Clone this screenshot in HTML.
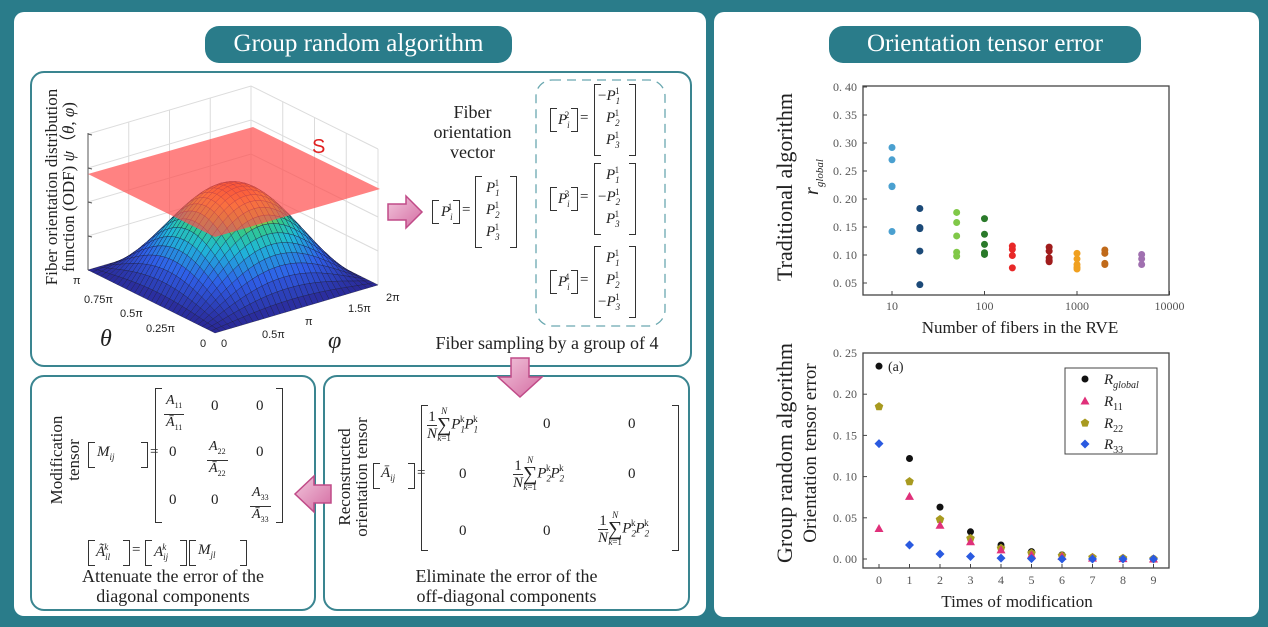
<!DOCTYPE html>
<html><head><meta charset="utf-8">
<style>
*{margin:0;padding:0;box-sizing:border-box}
body{width:1268px;height:627px;background:#2a7c8a;position:relative;overflow:hidden;font-family:"Liberation Serif",serif;color:#222}
.a{position:absolute;white-space:nowrap}
.panel{position:absolute;background:#fff;border-radius:10px}
.box{position:absolute;border:2px solid #3a8590;border-radius:14px;background:#fff}
.pill{position:absolute;background:#2a7c8a;color:#fff;border-radius:14px;font-size:25px;text-align:center;line-height:36px}
.br{position:absolute;border:1.5px solid #333;width:7px}
.bl{border-right:none}.brr{border-left:none}
i{font-style:italic}
.t{font-size:18px;text-align:center}
.rot{position:absolute;transform:rotate(-90deg);transform-origin:center;white-space:nowrap;text-align:center}
</style></head><body>
<div class="panel" style="left:14px;top:12px;width:692px;height:604px"></div>
<div class="panel" style="left:714px;top:12px;width:545px;height:605px"></div>
<div class="pill" style="left:205px;top:26px;width:307px;height:37px">Group random algorithm</div>
<div class="pill" style="left:829px;top:26px;width:312px;height:37px">Orientation tensor error</div>

<div class="box" style="left:30px;top:71px;width:662px;height:296px"></div>
<div class="box" style="left:30px;top:375px;width:286px;height:236px"></div>
<div class="box" style="left:323px;top:375px;width:367px;height:236px"></div>

<svg id="s3" class="a" style="left:0;top:0" width="706" height="627"></svg>
<div class="rot" style="left:-60px;top:170px;width:240px;font-size:17px;line-height:17px">Fiber orientation distribution<br>function (ODF) <i>ψ</i>（<i>θ</i>, <i>φ</i>)</div>
<div class="a" style="left:312px;top:136px;font-family:'Liberation Sans',sans-serif;font-size:20px;color:#e02020">S</div>
<div class="a" style="font-size:11px;font-family:'Liberation Sans',sans-serif;color:#222;left:0;top:0">
<span class="a" style="left:73px;top:275px">π</span>
<span class="a" style="left:84px;top:294px">0.75π</span>
<span class="a" style="left:120px;top:308px">0.5π</span>
<span class="a" style="left:146px;top:323px">0.25π</span>
<span class="a" style="left:200px;top:338px">0</span>
<span class="a" style="left:221px;top:338px">0</span>
<span class="a" style="left:262px;top:329px">0.5π</span>
<span class="a" style="left:305px;top:316px">π</span>
<span class="a" style="left:348px;top:303px">1.5π</span>
<span class="a" style="left:386px;top:292px">2π</span>
</div>
<div class="a" style="left:100px;top:326px;font-size:24px"><i>θ</i></div>
<div class="a" style="left:328px;top:328px;font-size:24px"><i>φ</i></div>

<svg class="a" style="left:0;top:0" width="706" height="627">
<defs><linearGradient id="pg" x1="0" y1="0" x2="1" y2="1"><stop offset="0" stop-color="#f2c6dc"/><stop offset="1" stop-color="#d46ca2"/></linearGradient></defs>
<polygon points="388,204 406,204 406,196 422,212 406,228 406,220 388,220" fill="url(#pg)" stroke="#c04b88" stroke-width="1.5"/>
<polygon points="511,358 529,358 529,377 542,377 520,397 498,377 511,377" fill="url(#pg)" stroke="#c04b88" stroke-width="1.5"/>
<polygon points="331,485 314,485 314,476 295,494 314,512 314,503 331,503" fill="url(#pg)" stroke="#c04b88" stroke-width="1.5"/>
<rect x="536" y="80" width="129" height="246" rx="16" fill="none" stroke="#6aa8b0" stroke-width="1.3" stroke-dasharray="9,6"/>
</svg>

<div class="a t" style="left:420px;top:102px;width:105px;line-height:20px">Fiber<br>orientation<br>vector</div>
<div id="eqs"></div>
<div class="a" style="left:424px;top:333px;width:246px;text-align:center;font-size:18px">Fiber sampling by a group of 4</div>

<div class="rot" style="left:283px;top:460px;width:140px;font-size:17px;line-height:17px">Reconstructed<br>orientation tensor</div>
<div class="a" style="left:323px;top:566px;width:367px;text-align:center;font-size:18px;line-height:20px">Eliminate the error of the<br>off-diagonal components</div>
<div class="rot" style="left:10px;top:443px;width:110px;font-size:17px;line-height:17px">Modification<br>tensor</div>
<div class="a" style="left:30px;top:566px;width:286px;text-align:center;font-size:18px;line-height:20px">Attenuate the error of the<br>diagonal components</div>

<svg id="ch" class="a" style="left:0;top:0" width="1268" height="627" font-family="Liberation Serif, serif"></svg>

<script>
(function(){
const S=document.getElementById('s3');let h='';
const F=[215,333],U=[-127,-63],V=[163,-48],H=93;
function P(u,v,z){return [F[0]+U[0]*u+V[0]*v, F[1]+U[1]*u+V[1]*v-z];}
const g='#dcdcdc';
for(let k=0;k<=4;k++){const z=k*34;
 let a=P(1,0,z),b=P(1,1,z),c=P(0,1,z);h+=`<polyline points="${a} ${b} ${c}" fill="none" stroke="${g}" stroke-width="1"/>`;}
for(let k=0;k<=4;k++){let a=P(1,k/4,0),b=P(1,k/4,136);h+=`<line x1="${a[0]}" y1="${a[1]}" x2="${b[0]}" y2="${b[1]}" stroke="${g}"/>`;
 a=P(k/4,1,0);b=P(k/4,1,136);h+=`<line x1="${a[0]}" y1="${a[1]}" x2="${b[0]}" y2="${b[1]}" stroke="${g}"/>`;}
h+=`<line x1="88" y1="133" x2="88" y2="270" stroke="#555"/>`;
[0,34,68,102,136].forEach(z=>{let p=P(1,0,z);h+=`<line x1="${p[0]}" y1="${p[1]}" x2="${p[0]+4}" y2="${p[1]+1}" stroke="#555"/>`});
const stops=[[0,[42,40,150]],[.3,[47,95,232]],[.55,[31,184,216]],[.7,[48,200,144]],[.8,[160,208,48]],[.9,[240,192,32]],[1,[240,112,16]]];
function col(t){for(let i=1;i<stops.length;i++){if(t<=stops[i][0]){const [t0,c0]=stops[i-1],[t1,c1]=stops[i];const f=(t-t0)/(t1-t0);return `rgb(${c0.map((c,j)=>Math.round(c+(c1[j]-c)*f)).join(',')})`;}}return 'rgb(240,112,16)';}
const N=30;function f(u,v){const s=Math.sin(Math.PI*u)*Math.sin(Math.PI*v);return Math.pow(s,1.1);}
let q=[];
for(let i=0;i<N;i++)for(let j=0;j<N;j++){const u0=i/N,u1=(i+1)/N,v0=j/N,v1=(j+1)/N;
 const pts=[[u0,v0],[u1,v0],[u1,v1],[u0,v1]].map(([u,v])=>P(u,v,H*f(u,v)));
 const fm=f((u0+u1)/2,(v0+v1)/2);q.push([u0+v0,pts,fm]);}
q.sort((x,y)=>y[0]-x[0]);
q.forEach(([d,p,fm])=>{h+=`<polygon points="${p.map(x=>x.join(',')).join(' ')}" fill="${col(fm)}" stroke="#1a1a3a" stroke-width="0.35"/>`});
h+=`<polygon points="88,174 253,127 380,189 215,237" fill="#ff4d4d" fill-opacity="0.7"/>`;
S.innerHTML=h;

const E=document.getElementById('eqs');let e='';
function br(x,y,w,hh){return `<div class="br bl" style="left:${x}px;top:${y}px;height:${hh}px"></div><div class="br brr" style="left:${x+w-7}px;top:${y}px;height:${hh}px"></div>`;}
function t(x,y,s,fs){return `<div class="a" style="left:${x}px;top:${y}px;font-size:${fs||15}px">${s}</div>`;}
const Pv=(n,s)=>`<i>P</i><sub style="font-size:9px"><i>${n}</i></sub><sup style="font-size:9px;margin-left:-5px">${s}</sup>`;
e+=br(432,200,28,24)+t(441,202,Pv('i',1))+t(462,202,'=');
e+=br(475,176,42,72)+t(486,178,Pv(1,1))+t(486,200,Pv(2,1))+t(486,222,Pv(3,1));
const G=[[84,2,['−'+Pv(1,1),Pv(2,1),Pv(3,1)]],[163,3,[Pv(1,1),'−'+Pv(2,1),Pv(3,1)]],[246,4,[Pv(1,1),Pv(2,1),'−'+Pv(3,1)]]];
G.forEach(([y,k,r])=>{e+=br(550,y+24,28,24)+t(558,y+26,Pv('i',k))+t(580,y+26,'=');
 e+=br(594,y,42,72);r.forEach((s,j)=>{e+=t(s[0]=='−'?598:606,y+2+j*22,s)});});
const sm=(a)=>`<span style="display:inline-block;text-align:center;vertical-align:middle;font-size:15px;line-height:16px"><span style="display:block;border-bottom:1px solid #333">1</span><i>N</i></span><span style="display:inline-block;vertical-align:middle;text-align:center;font-size:9px;line-height:9px"><i>N</i><br><span style="font-size:20px;line-height:18px">∑</span><br><i>k</i>=1</span>${a}`;
e+=br(373,463,42,26)+t(381,465,'<i>Ā</i><sub style="font-size:9px"><i>ij</i></sub>')+t(417,465,'=');
e+=br(421,405,258,146);
e+=t(427,407,sm(Pv(1,'k')+Pv(1,'k')))+t(543,416,'0')+t(628,416,'0');
e+=t(459,466,'0')+t(513,456,sm(Pv(2,'k')+Pv(2,'k')))+t(628,466,'0');
e+=t(459,523,'0')+t(543,523,'0')+t(598,511,sm(Pv(2,'k')+Pv(2,'k')));
const fr=(n)=>`<span style="display:inline-block;text-align:center;font-size:14px;line-height:16px"><span style="display:block;border-bottom:1px solid #333;padding:0 2px"><i>A</i><sub style="font-size:8px">${n}</sub></span><i>Ā</i><sub style="font-size:8px">${n}</sub></span>`;
e+=br(88,442,60,26)+t(97,444,'<i>M</i><sub style="font-size:9px"><i>ij</i></sub>')+t(150,444,'=');
e+=br(155,388,128,135);
e+=t(164,393,fr(11))+t(211,398,'0')+t(256,398,'0');
e+=t(169,444,'0')+t(207,439,fr(22))+t(256,444,'0');
e+=t(169,492,'0')+t(211,492,'0')+t(250,485,fr(33));
e+=br(88,540,42,26)+t(96,542,'<i>Ã</i><sub style="font-size:9px"><i>il</i></sub><sup style="font-size:9px;margin-left:-6px"><i>k</i></sup>')+t(132,542,'=')+br(145,540,42,26)+t(154,542,'<i>A</i><sub style="font-size:9px"><i>ij</i></sub><sup style="font-size:9px;margin-left:-6px"><i>k</i></sup>')+br(189,540,58,26)+t(198,542,'<i>M</i><sub style="font-size:9px"><i>jl</i></sub>');
E.innerHTML=e;

const C=document.getElementById('ch');let c='';
c+=`<rect x="863" y="86" width="306" height="209" fill="none" stroke="#444" stroke-width="1.3"/>`;
const ty=v=>87+(0.40-v)/0.05*28, tx=n=>892+Math.log10(n/10)*92.5;
for(let k=1;k<=8;k++){const v=k*0.05,y=ty(v);c+=`<line x1="863" y1="${y}" x2="867" y2="${y}" stroke="#444"/><text x="857" y="${y+4}" font-size="12" fill="#555" text-anchor="end">${'0. '+(v.toFixed(2).slice(2))}</text>`;}
[10,100,1000,10000].forEach(n=>{const x=tx(n);c+=`<line x1="${x}" y1="295" x2="${x}" y2="291" stroke="#444"/><text x="${x}" y="310" font-size="12" fill="#555" text-anchor="middle">${n}</text>`});
const D=[[10,[.292,.270,.223,.222,.142],'#4aa0d0'],[20,[.183,.149,.147,.107,.047],'#1c4a78'],[50,[.176,.158,.134,.105,.098],'#80c848'],[100,[.165,.137,.119,.104,.101],'#2a7a2a'],[200,[.116,.110,.099,.077],'#e82828'],[500,[.114,.107,.095,.090,.088],'#a01c1c'],[1000,[.103,.093,.083,.078,.075],'#f0a020'],[2000,[.109,.103,.085,.083],'#c06a1a'],[5000,[.101,.093,.083],'#a070b0']];
D.forEach(([n,vs,cl])=>vs.forEach(v=>{c+=`<circle cx="${tx(n)}" cy="${ty(v)}" r="3.5" fill="${cl}"/>`}));
c+=`<text transform="translate(792,187) rotate(-90)" font-size="22" text-anchor="middle" fill="#222">Traditional algorithm</text>`;
c+=`<text transform="translate(818,177) rotate(-90)" font-size="20" text-anchor="middle" fill="#222" font-style="italic">r<tspan font-size="11" dy="5">global</tspan></text>`;
c+=`<text x="1020" y="333" font-size="17" text-anchor="middle" fill="#222">Number of fibers in the RVE</text>`;
c+=`<rect x="863" y="353" width="306" height="215" fill="none" stroke="#444" stroke-width="1.3"/>`;
const by=v=>559-v/0.05*41.2, bx=i=>879+i*30.5;
for(let k=0;k<=5;k++){const v=k*0.05,y=by(v);c+=`<line x1="863" y1="${y}" x2="867" y2="${y}" stroke="#444"/><text x="857" y="${y+4}" font-size="12" fill="#555" text-anchor="end">0. ${v.toFixed(2).slice(2)}</text>`;}
for(let i=0;i<10;i++){c+=`<line x1="${bx(i)}" y1="568" x2="${bx(i)}" y2="564" stroke="#444"/><text x="${bx(i)}" y="584" font-size="12" fill="#555" text-anchor="middle">${i}</text>`}
const rg=[.234,.122,.063,.033,.017,.009,.005,.002,.001,.0005],r11=[.037,.076,.041,.021,.011,.005,.003,.001,.0005,0],r22=[.185,.094,.048,.025,.013,.007,.004,.002,.001,0],r33=[.140,.017,.006,.003,.001,.0005,0,0,0,0];
const circ=(x,y)=>`<circle cx="${x}" cy="${y}" r="3.5" fill="#111"/>`;
const tri=(x,y)=>`<polygon points="${x},${y-4.5} ${x+4.5},${y+3.5} ${x-4.5},${y+3.5}" fill="#e0307a"/>`;
const pent=(x,y)=>{let p=[];for(let k=0;k<5;k++){const a=-Math.PI/2+k*2*Math.PI/5;p.push((x+4.5*Math.cos(a)).toFixed(1)+','+(y+4.5*Math.sin(a)).toFixed(1))}return `<polygon points="${p.join(' ')}" fill="#a89a20"/>`};
const dia=(x,y)=>`<polygon points="${x},${y-4.5} ${x+4.5},${y} ${x},${y+4.5} ${x-4.5},${y}" fill="#2a5ae0"/>`;
for(let i=0;i<10;i++){c+=circ(bx(i),by(rg[i]))+pent(bx(i),by(r22[i]))+tri(bx(i),by(r11[i]))+dia(bx(i),by(r33[i]));}
c+=`<text x="888" y="371" font-size="14" fill="#222">(a)</text>`;
c+=`<rect x="1065" y="368" width="92" height="86" fill="#fff" stroke="#444"/>`;
c+=circ(1085,379)+tri(1085,401)+pent(1085,423)+dia(1085,444);
const lt=(y,s)=>`<text x="1104" y="${y}" font-size="15" fill="#222" font-style="italic">R<tspan font-size="10" dy="4" font-style="${s=='global'?'italic':'normal'}">${s}</tspan></text>`;
c+=lt(384,'global')+lt(406,'11')+lt(428,'22')+lt(449,'33');
c+=`<text transform="translate(792,453) rotate(-90)" font-size="22" text-anchor="middle" fill="#222">Group random algorithm</text>`;
c+=`<text transform="translate(816,453) rotate(-90)" font-size="19" text-anchor="middle" fill="#222">Orientation tensor error</text>`;
c+=`<text x="1017" y="607" font-size="17" text-anchor="middle" fill="#222">Times of modification</text>`;
C.innerHTML=c;
})();
</script>
</body></html>
